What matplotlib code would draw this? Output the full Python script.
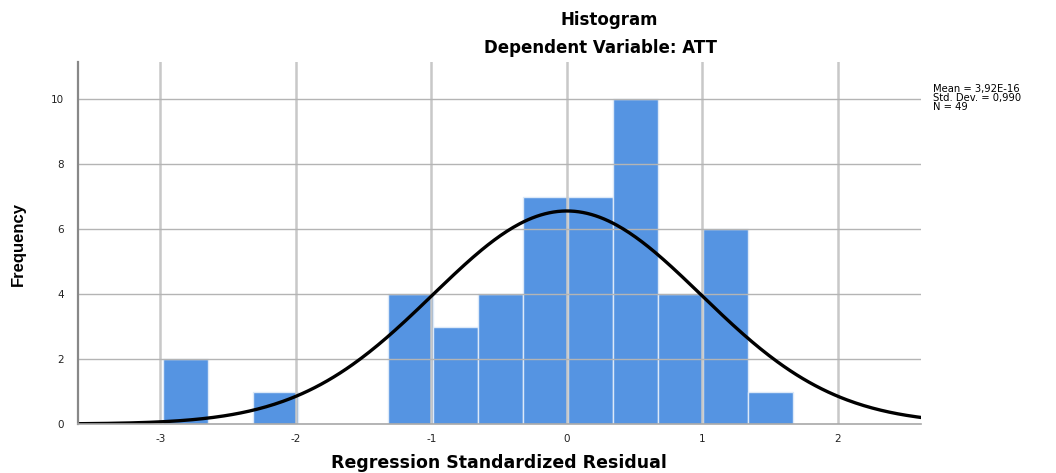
import numpy as np
import matplotlib
matplotlib.use("Agg")
import matplotlib.pyplot as plt

plt.rcParams['font.family'] = ['DejaVu Sans']

# Data
counts = [2, 0, 1, 0, 0, 4, 3, 4, 7, 7, 10, 4, 6, 1]
bin_start = -2.982
bin_width = 0.332
mean = 3.92e-16
std = 0.990
n = 49
x_ticks = [-3, -2, -1, 0, 1, 2]
y_ticks = [0, 2, 4, 6, 8, 10]
stats_lines = ['Mean = 3,92E-16', 'Std. Dev. = 0,990', 'N = 49']

W, H = 1056, 473
fig = plt.figure(figsize=(W/100, H/100), dpi=100)
left, right, top, bottom = 78, 921, 62, 424
ax = fig.add_axes([left/W, 1-bottom/H, (right-left)/W, (bottom-top)/H])

edges = bin_start + bin_width*np.arange(len(counts))
ax.bar(edges, counts, width=bin_width, align='edge', color='#5594E2',
       edgecolor='#dce9f8', linewidth=1.0, zorder=2)

xmin, xmax = -3.608, 2.613
ax.set_xlim(xmin, xmax)
ax.set_ylim(0, 11.14)

# grid lines over bars
for xt in x_ticks:
    ax.axvline(xt, color='#c8c8c8', lw=1.8, zorder=3)
for yt in y_ticks[1:]:
    ax.axhline(yt, color='#b4b4b4', lw=1.0, zorder=3)

xs = np.linspace(xmin, xmax, 400)
pdf = n*bin_width/(std*np.sqrt(2*np.pi))*np.exp(-0.5*((xs-mean)/std)**2)
ax.plot(xs, pdf, color='black', lw=2.4, zorder=4)

ax.set_xticks(x_ticks)
ax.set_xticklabels([str(v) for v in x_ticks])
ax.set_yticks(y_ticks)
ax.set_yticklabels([str(v) for v in y_ticks])
ax.tick_params(axis='both', length=0, labelsize=7.5, colors='#222222')
ax.tick_params(axis='x', pad=7)
ax.tick_params(axis='y', pad=10)

for s in ['top', 'right']:
    ax.spines[s].set_visible(False)
ax.spines['left'].set_color('#888888')
ax.spines['left'].set_linewidth(1.6)
ax.spines['bottom'].set_color('#a8a8a8')
ax.spines['bottom'].set_linewidth(1.2)
ax.spines['left'].set_zorder(5)
ax.spines['bottom'].set_zorder(5)

fig.text(609/W, 1-20/H, 'Histogram', ha='center', va='center',
         fontsize=12, fontweight='bold')
fig.text(601/W, 1-48/H, 'Dependent Variable: ATT', ha='center', va='center',
         fontsize=12, fontweight='bold')
fig.text(499/W, 1-463/H, 'Regression Standardized Residual', ha='center',
         va='center', fontsize=12.5, fontweight='bold')
fig.text(18/W, 1-244/H, 'Frequency', ha='center', va='center', rotation=90,
         fontsize=12, fontweight='bold',
         family=['Liberation Sans Narrow', 'Liberation Sans', 'DejaVu Sans'])

for i, line in enumerate(stats_lines):
    fig.text(933/W, 1-(88.3+8.8*i)/H, line, ha='left', va='center_baseline',
             fontsize=7.2)

fig.savefig('out.png', dpi=100)
